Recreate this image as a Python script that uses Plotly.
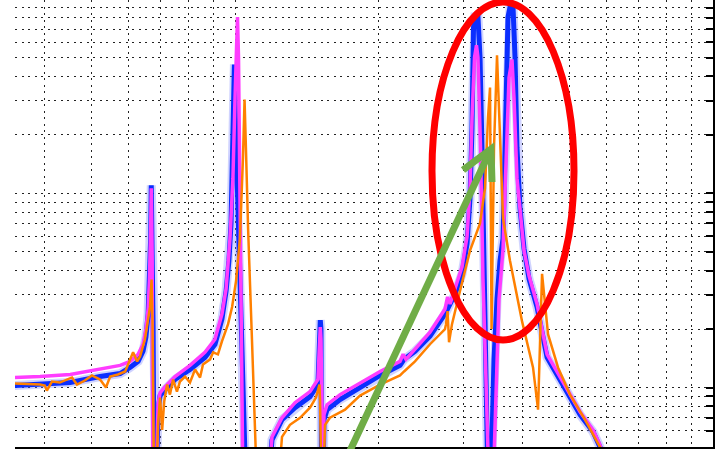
import plotly.graph_objects as go

# ---------------- data (frequency in Hz, amplitude) ----------------
freq_blue = [34.6, 39.1, 45.2, 52.2, 57.5, 60.3, 62.7, 64.2, 65.1, 65.8, 66.2, 66.6, 66.8, 67.1, 67.4, 67.7,
             68.4, 69.0, 69.7, 71.4, 74.9, 80.5, 86.5, 90.8, 93.9, 95.8, 97.1, 98.1, 98.8, 99.3, 99.7,
             100.2, 101.5, 102.9, 104.4, 105.4, 117.2, 119.5, 125.4, 133.5, 143.5, 149.1, 150.2, 150.8,
             151.3, 151.7, 152.8, 153.5, 155.8, 165.9, 182.6, 201.1, 221.4, 225.8, 238.0, 255.8, 275.0,
             288.6, 298.5, 305.8, 310.2, 313.2, 315.5, 317.8, 322.3, 325.5, 328.6, 331.8, 335.0, 338.3,
             342.8, 348.2, 353.3, 358.4, 363.7, 369.0, 372.5, 376.1, 381.6, 385.3, 389.0, 394.7, 402.4,
             412.2, 428.4, 449.6, 495.0, 527.0, 561.0, 580.2, 609.0]
amp_blue = [1.024, 1.036, 1.061, 1.14, 1.18, 1.269, 1.364, 1.537, 1.816, 2.389, 3.418, 5.846, 11.0, 6.588, 2.0, 0.3,
            0.3, 0.769, 0.909, 0.976, 1.10, 1.24, 1.43, 1.671, 2.251, 3.144, 4.496, 6.993, 15.18, 31.06, 46.05,
            24.47, 6.588, 2.0, 0.683, 0.3, 0.3, 0.538, 0.683, 0.788, 0.898, 1.036, 1.773, 2.225,
            2.0, 0.3, 0.3, 0.683, 0.769, 0.867, 1.0, 1.154, 1.30, 1.397, 1.537, 1.837, 2.389,
            3.033, 3.85, 5.508, 9.421, 21.72, 71.6, 80.7, 80.7, 50.06, 17.11, 4.605, 1.397, 0.3,
            0.3, 1.397, 2.857, 4.496, 5.846, 21.72, 80.7, 90.9, 90.9, 50.06, 17.11, 8.36, 5.19,
            3.627, 2.597, 1.43, 0.953, 0.725, 0.592, 0.494, 0.3]

freq_magenta = [34.6, 39.1, 45.2, 52.2, 57.5, 60.3, 62.7, 64.2, 65.1, 65.8, 66.2, 66.6, 66.8, 67.1, 67.3,
                68.4, 69.0, 69.7, 71.4, 74.9, 80.5, 86.5, 90.8, 93.9, 95.8, 97.6, 99.0, 100.0, 100.7, 101.2,
                101.7, 102.2, 102.9, 103.9, 117.2, 119.5, 125.4, 133.5, 143.5, 149.1, 150.2, 150.8, 151.3,
                151.7, 152.8, 153.5, 155.8, 165.9, 182.6, 201.1, 221.4, 224.7, 227.9, 238.0, 255.8, 275.0,
                278.4, 281.8, 288.6, 298.5, 305.8, 310.2, 313.2, 317.0, 320.0, 322.3, 326.3, 330.2, 335.0,
                340.0, 346.6, 351.6, 356.7, 363.7, 369.0, 374.3, 379.7, 383.4, 389.0, 394.7, 402.4, 412.2,
                428.4, 449.6, 495.0, 527.0, 561.0, 580.2, 609.0]
amp_magenta = [1.127, 1.14, 1.168, 1.24, 1.30, 1.364, 1.483, 1.671, 2.0, 2.536, 3.542, 6.588, 10.61, 4.605, 0.3,
               0.3, 0.816, 0.94, 1.012, 1.14, 1.30, 1.518, 1.773, 2.389, 3.22, 5.846, 11.96, 31.06, 59.9, 80.7,
               50.06, 17.11, 2.857, 0.3, 0.3, 0.557, 0.699, 0.836, 0.953, 1.10, 1.671, 2.046, 1.773,
               0.3, 0.3, 0.725, 0.816, 0.92, 1.061, 1.21, 1.364, 1.483, 1.397, 1.573, 1.927, 2.536,
               2.926, 2.692, 3.22, 4.186, 5.987, 10.61, 24.47, 50.06, 57.77, 50.06, 17.11, 3.627, 1.10,
               0.3, 0.3, 1.10, 2.857, 5.19, 17.11, 39.4, 48.88, 31.06, 11.96, 8.07, 5.067, 3.76,
               2.692, 1.483, 0.976, 0.751, 0.606, 0.507, 0.3]

freq_orange = [34.6, 39.1, 40.0, 40.4, 41.4, 43.0, 45.6, 46.7, 48.5, 50.2, 52.2, 53.7, 54.8, 56.9, 58.9, 60.3,
               61.2, 62.4, 63.3, 64.8, 65.8, 66.4, 66.9, 67.2, 67.7, 68.4, 69.0, 69.7, 70.4, 71.1, 72.1,
               73.1, 74.2, 75.6, 76.7, 78.6, 80.5, 82.5, 84.5, 85.7, 88.7, 90.0, 92.1, 93.9, 96.7, 98.6,
               100.5, 102.4, 103.9, 104.7, 105.4, 106.5, 108.5, 111.2, 123.0, 125.4, 130.3, 136.8, 143.5,
               147.7, 150.2, 150.6, 151.7, 152.8, 154.3, 158.0, 169.9, 182.6, 201.1, 221.4, 225.8, 238.0,
               255.8, 275.0, 276.3, 278.4, 280.4, 284.4, 295.6, 310.2, 325.5, 333.4, 338.3, 341.6, 344.1,
               348.2, 353.3, 358.4, 363.7, 376.1, 398.5, 420.2, 430.5, 438.9, 451.7, 474.0, 502.2, 539.8,
               580.2, 609.0]
amp_orange = [1.049, 1.036, 1.024, 0.965, 1.074, 1.061, 1.127, 1.036, 1.087, 1.154, 1.10, 1.0, 1.14, 1.168, 1.21, 1.397,
              1.518, 1.364, 1.447, 1.773, 2.3, 2.6, 3.6, 2.2, 0.3, 0.3, 0.643, 0.888, 0.606, 0.846, 1.036,
              0.92, 1.10, 0.953, 1.074, 1.14, 1.061, 1.24, 1.127, 1.316, 1.397, 1.518, 1.483, 1.731, 2.12, 2.597,
              3.542, 5.846, 15.18, 30.34, 17.11, 6.588, 1.773, 0.3, 0.3, 0.557, 0.643, 0.699, 0.788,
              0.888, 1.036, 0.867, 0.3, 0.3, 0.643, 0.699, 0.769, 0.909, 1.036, 1.154, 1.21, 1.364,
              1.671, 2.0, 2.12, 2.476, 1.711, 2.12, 3.144, 5.067, 6.993, 10.61, 24.47, 34.99, 2.0,
              17.11, 51.27, 21.72, 7.421, 4.496, 2.198, 1.269, 0.769, 3.85, 1.882, 1.269, 0.92, 0.683,
              0.494, 0.3]

# ---------------- figure ----------------
fig = go.Figure()
fig.add_trace(go.Scatter(x=freq_blue, y=amp_blue, mode="lines",
                         line=dict(color="rgba(120,130,255,0.35)", width=9), hoverinfo="skip"))
fig.add_trace(go.Scatter(x=freq_blue, y=amp_blue, mode="lines",
                         line=dict(color="#0a2eff", width=5)))
fig.add_trace(go.Scatter(x=freq_magenta, y=amp_magenta, mode="lines",
                         line=dict(color="#ff3cff", width=3.5)))
fig.add_trace(go.Scatter(x=freq_orange, y=amp_orange, mode="lines",
                         line=dict(color="#ff8000", width=2.5)))

# plot-area geometry in page pixels (used only to place the annotation shapes)
L, R, T, B = 15, 713, 0, 447


def P(px, py):
    return (px - L) / (R - L), (B - py) / (B - T)


ex0, ey0 = P(432, 340)
ex1, ey1 = P(574, 2)
a0 = P(348, 455)
tip = P(491, 149)
w1 = P(463, 170)
w2 = P(492, 182)

shapes = [
    dict(type="circle", xref="paper", yref="paper", x0=ex0, y0=ey0, x1=ex1, y1=ey1,
         line=dict(color="#ff0000", width=7), layer="above"),
    dict(type="line", xref="paper", yref="paper", x0=a0[0], y0=a0[1], x1=tip[0], y1=tip[1],
         line=dict(color="#70ad47", width=7), layer="above"),
    dict(type="path", xref="paper", yref="paper",
         path=f"M {w1[0]} {w1[1]} L {tip[0]} {tip[1]} L {w2[0]} {w2[1]}",
         line=dict(color="#70ad47", width=7), layer="above"),
]

grid = dict(showgrid=True, gridcolor="#222222", gridwidth=1, griddash="2px,4.5px")

fig.update_layout(
    width=721, height=449,
    margin=dict(l=L, r=721 - R, t=T, b=449 - B),
    paper_bgcolor="white", plot_bgcolor="white",
    showlegend=False,
    shapes=shapes,
    xaxis=dict(type="log", range=[1.5397, 3.0], dtick="D1", showticklabels=False, ticks="",
               showline=True, linecolor="black", linewidth=2, zeroline=False, **grid),
    yaxis=dict(type="log", range=[-0.306, 1.995], dtick="D1", showticklabels=False,
               side="right", ticks="inside", ticklen=7, tickwidth=2, tickcolor="black",
               showline=True, linecolor="black", linewidth=2, zeroline=False, **grid),
)

fig.write_html("out.html")
